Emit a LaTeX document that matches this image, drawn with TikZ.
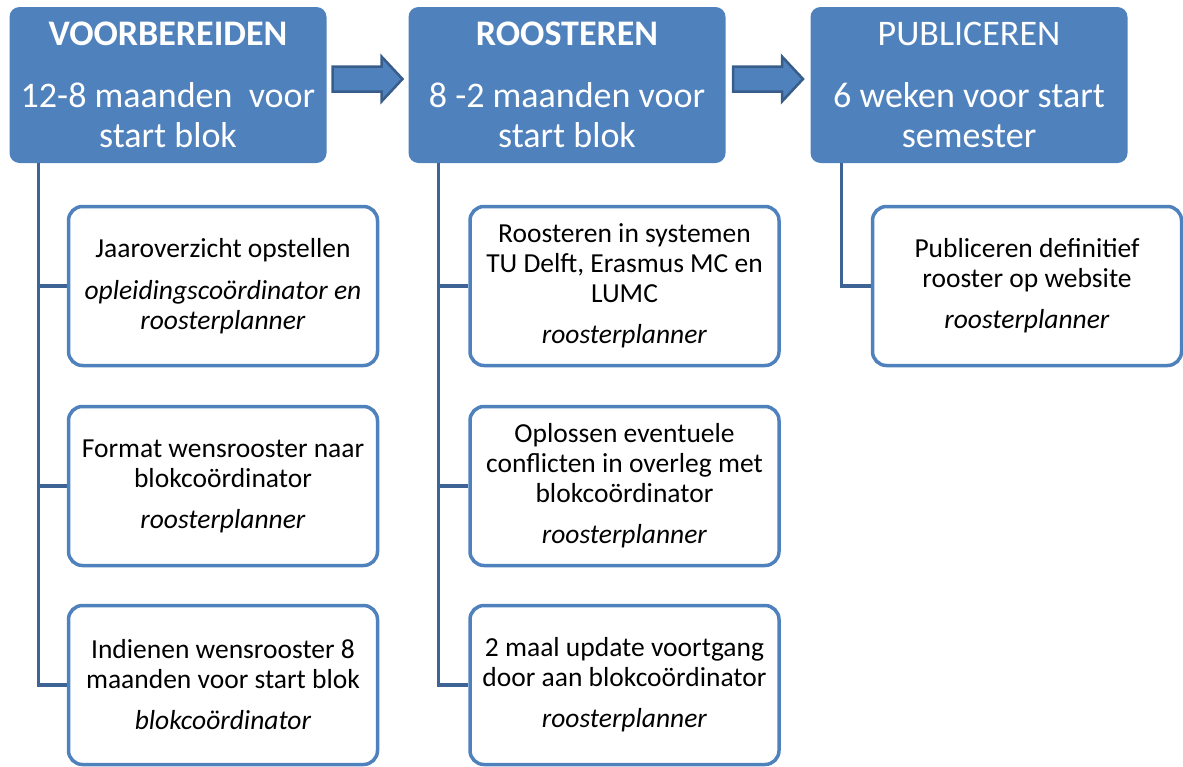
\documentclass[tikz,border=0pt]{standalone}
\usepackage{fontspec}
\setmainfont{Carlito}
\usetikzlibrary{calc}
\definecolor{hdrblue}{RGB}{79,129,189}
\definecolor{lineblue}{RGB}{62,100,150}
\definecolor{arrowedge}{RGB}{56,93,138}

\tikzset{
  hdr/.style={fill=hdrblue,rounded corners=10pt,minimum width=317pt,minimum height=156pt,
    inner sep=0pt,text=white,align=center,font=\fontsize{36}{40}\selectfont},
  task/.style={draw=hdrblue,line width=3.5pt,fill=white,rounded corners=14pt,minimum width=309pt,
    minimum height=159pt,inner sep=0pt,align=center,font=\fontsize{27.5}{30}\selectfont},
  conn/.style={draw=lineblue,line width=3.5pt},
  blockarrow/.style={fill=hdrblue,draw=arrowedge,line width=2.5pt,line join=miter}
}

\begin{document}
\begin{tikzpicture}[x=1pt,y=-1pt]
\useasboundingbox (0,0) rectangle (1183,766);

% fasen
\node[hdr] (prep) at (168,85) {\textbf{VOORBEREIDEN}\\[22pt]12-8 maanden\ \ voor\\start blok};
\node[hdr] (roost) at (567,85) {\textbf{ROOSTEREN}\\[22pt]8 -2 maanden voor\\start blok};
\node[hdr] (publ) at (969,85) {PUBLICEREN\\[22pt]6 weken voor start\\semester};

% taken
\node[task] (t11) at (223,286) {Jaaroverzicht opstellen\\[12pt]\textit{opleidingscoördinator en}\\\textit{roosterplanner}};
\node[task] (t12) at (223,486) {Format wensrooster naar\\blokcoördinator\\[11pt]\textit{roosterplanner}};
\node[task] (t13) at (223,685) {Indienen wensrooster 8\\maanden voor start blok\\[11pt]\textit{blokcoördinator}};

\node[task] (t21) at (624.5,286) {Roosteren in systemen\\TU Delft, Erasmus MC en\\LUMC\\[11pt]\textit{roosterplanner}};
\node[task] (t22) at (624.5,486) {Oplossen eventuele\\conflicten in overleg met\\blokcoördinator\\[11pt]\textit{roosterplanner}};
\node[task] (t23) at (624.5,685) {2 maal update voortgang\\door aan blokcoördinator\\[11pt]\textit{roosterplanner}};

\node[task] (t31) at (1027,286) {Publiceren definitief\\rooster op website\\[11pt]\textit{roosterplanner}};

% verbindingen
\foreach \t in {t11,t12,t13}
  \draw[conn] ([xshift=29pt]prep.south west) |- (\t.west);
\foreach \t in {t21,t22,t23}
  \draw[conn] ([xshift=30pt]roost.south west) |- (\t.west);
\draw[conn] ([xshift=31pt]publ.south west) |- (t31.west);

% pijlen
\foreach \a/\b in {prep/roost,roost/publ}{
  \begin{scope}[shift={($(\a.east)!0.5!(\b.west)+(0,-6)$)}]
    \draw[blockarrow] (-35,-12.5) -- (14,-12.5) -- (14,-22.5) -- (35,0) -- (14,22.5) -- (14,12.5) -- (-35,12.5) -- cycle;
  \end{scope}
}
\end{tikzpicture}
\end{document}
